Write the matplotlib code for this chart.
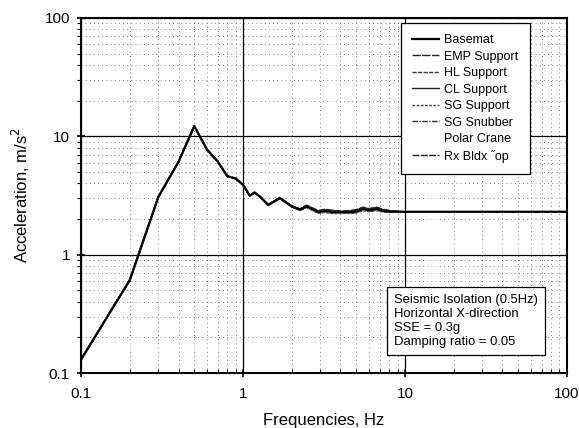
import matplotlib
matplotlib.use("Agg")
import matplotlib.pyplot as plt
from matplotlib.ticker import LogLocator, FixedLocator, FixedFormatter, NullFormatter

plt.rcParams['font.family'] = ['Liberation Sans', 'DejaVu Sans']

freqs = [0.1, 0.2, 0.3, 0.4, 0.5, 0.6, 0.7, 0.8, 0.9, 1.0, 1.1, 1.18, 1.27, 1.43,
         1.69, 2.0, 2.25, 2.47, 2.92, 3.2, 3.61, 4.0, 4.57, 5.0, 5.53, 6.0, 6.69,
         7.3, 8.07, 9.0, 10, 20, 50, 100]

basemat     = [0.13, 0.61, 3.07, 6.1, 12.2, 7.7, 6.1, 4.6, 4.4, 3.9, 3.15, 3.35, 3.1, 2.63,
               3.0, 2.55, 2.39, 2.55, 2.28, 2.33, 2.28, 2.29, 2.28, 2.30, 2.42, 2.36, 2.42,
               2.34, 2.30, 2.30, 2.30, 2.30, 2.30, 2.30]
emp_support = [0.13, 0.61, 3.07, 6.1, 12.2, 7.7, 6.1, 4.6, 4.4, 3.9, 3.15, 3.35, 3.1, 2.65,
               3.02, 2.57, 2.42, 2.58, 2.32, 2.37, 2.33, 2.30, 2.32, 2.36, 2.47, 2.40, 2.47,
               2.38, 2.33, 2.31, 2.30, 2.30, 2.30, 2.30]
hl_support  = [0.13, 0.61, 3.07, 6.1, 12.2, 7.7, 6.1, 4.6, 4.4, 3.9, 3.15, 3.35, 3.1, 2.64,
               3.01, 2.56, 2.40, 2.52, 2.25, 2.29, 2.24, 2.26, 2.25, 2.27, 2.38, 2.33, 2.38,
               2.31, 2.29, 2.30, 2.30, 2.30, 2.30, 2.30]
cl_support  = [0.13, 0.61, 3.07, 6.1, 12.2, 7.7, 6.1, 4.6, 4.4, 3.9, 3.15, 3.35, 3.1, 2.64,
               3.03, 2.58, 2.43, 2.60, 2.34, 2.40, 2.35, 2.32, 2.34, 2.38, 2.50, 2.43, 2.50,
               2.40, 2.35, 2.32, 2.30, 2.30, 2.30, 2.30]
sg_support  = [0.13, 0.61, 3.07, 6.1, 12.2, 7.7, 6.1, 4.6, 4.4, 3.9, 3.15, 3.35, 3.1, 2.62,
               2.99, 2.54, 2.38, 2.50, 2.23, 2.27, 2.22, 2.24, 2.23, 2.25, 2.35, 2.31, 2.35,
               2.29, 2.28, 2.29, 2.30, 2.30, 2.30, 2.30]
sg_snubber  = [0.13, 0.61, 3.07, 6.1, 12.2, 7.7, 6.1, 4.6, 4.4, 3.9, 3.15, 3.35, 3.1, 2.63,
               3.0, 2.56, 2.41, 2.56, 2.30, 2.35, 2.31, 2.31, 2.30, 2.33, 2.45, 2.38, 2.44,
               2.36, 2.32, 2.30, 2.30, 2.30, 2.30, 2.30]
polar_crane = [0.13, 0.61, 3.07, 6.1, 12.2, 7.7, 6.1, 4.6, 4.4, 3.9, 3.15, 3.35, 3.1, 2.63,
               3.0, 2.55, 2.40, 2.54, 2.27, 2.31, 2.27, 2.28, 2.27, 2.29, 2.40, 2.35, 2.40,
               2.33, 2.30, 2.30, 2.30, 2.30, 2.30, 2.30]
rx_bldx_top = [0.13, 0.61, 3.07, 6.1, 12.2, 7.7, 6.1, 4.6, 4.4, 3.9, 3.15, 3.35, 3.1, 2.65,
               3.04, 2.59, 2.44, 2.62, 2.36, 2.42, 2.37, 2.33, 2.36, 2.40, 2.52, 2.45, 2.52,
               2.42, 2.36, 2.33, 2.30, 2.30, 2.30, 2.30]

series = [
    ("Basemat", basemat, '-', 1.6, 'black'),
    ("EMP Support", emp_support, (0, (6, 1)), 1.0, '#222222'),
    ("HL Support", hl_support, (0, (3, 1)), 1.0, '#333333'),
    ("CL Support", cl_support, '-', 1.0, '#222222'),
    ("SG Support", sg_support, (0, (2, 1)), 1.0, '#444444'),
    ("SG Snubber", sg_snubber, (0, (4, 1, 1, 1)), 1.0, '#333333'),
    ("Polar Crane", polar_crane, '-', 1.0, 'white'),
    ("Rx Bldx \u02ddop", rx_bldx_top, (0, (5, 1)), 1.0, '#222222'),
]

fig = plt.figure(figsize=(5.79, 4.28), dpi=100)
ax = fig.add_axes([0.140, 0.1285, 0.839, 0.8295])

for name, vals, ls, lw, col in series:
    ax.plot(freqs, vals, linestyle=ls, linewidth=lw, color=col, label=name)
ax.plot(freqs, basemat, '-', lw=1.4, color='black')

ax.set_xscale('log')
ax.set_yscale('log')
ax.set_xlim(0.1, 100)
ax.set_ylim(0.1, 100)

ax.xaxis.set_major_locator(FixedLocator([0.1, 1, 10, 100]))
ax.xaxis.set_major_formatter(FixedFormatter(['0.1', '1', '10', '100']))
ax.yaxis.set_major_locator(FixedLocator([0.1, 1, 10, 100]))
ax.yaxis.set_major_formatter(FixedFormatter(['0.1', '1', '10', '100']))
ax.xaxis.set_minor_locator(LogLocator(base=10, subs=range(2, 10)))
ax.yaxis.set_minor_locator(LogLocator(base=10, subs=range(2, 10)))
ax.xaxis.set_minor_formatter(NullFormatter())
ax.yaxis.set_minor_formatter(NullFormatter())

ax.grid(True, which='major', color='black', linewidth=0.9, linestyle='-')
ax.grid(True, which='minor', color='#555555', linewidth=0.6, linestyle=(0, (1, 4)))

ax.tick_params(axis='both', which='major', labelsize=11, length=6, width=1.2, direction='inout')
ax.tick_params(axis='x', which='major', pad=7)
ax.tick_params(axis='y', which='major', pad=5)
ax.tick_params(axis='both', which='minor', length=3, width=0.8, direction='in')
ax.tick_params(axis='y', which='minor', direction='out')
for sp in ax.spines.values():
    sp.set_linewidth(1.5)

ax.set_xlabel('Frequencies, Hz', fontsize=12, labelpad=9)
ax.set_ylabel('Acceleration, m/s$^2$', fontsize=12, labelpad=9)

leg = ax.legend(loc='upper right', bbox_to_anchor=(0.924, 0.986), borderaxespad=0,
                fontsize=9, frameon=True, fancybox=False, edgecolor='black', framealpha=1,
                handlelength=2.2, handletextpad=0.4, labelspacing=0.36, borderpad=0.9)
leg.get_frame().set_linewidth(0.9)

ax.text(0.645, 0.222,
        "Seismic Isolation (0.5Hz)\nHorizontal X-direction\nSSE = 0.3g\nDamping ratio = 0.05",
        transform=ax.transAxes, fontsize=9.4, va='top', ha='left', linespacing=1.2,
        bbox=dict(boxstyle='square,pad=0.55', facecolor='white', edgecolor='black', linewidth=0.9))

fig.savefig('out.png', dpi=100)
